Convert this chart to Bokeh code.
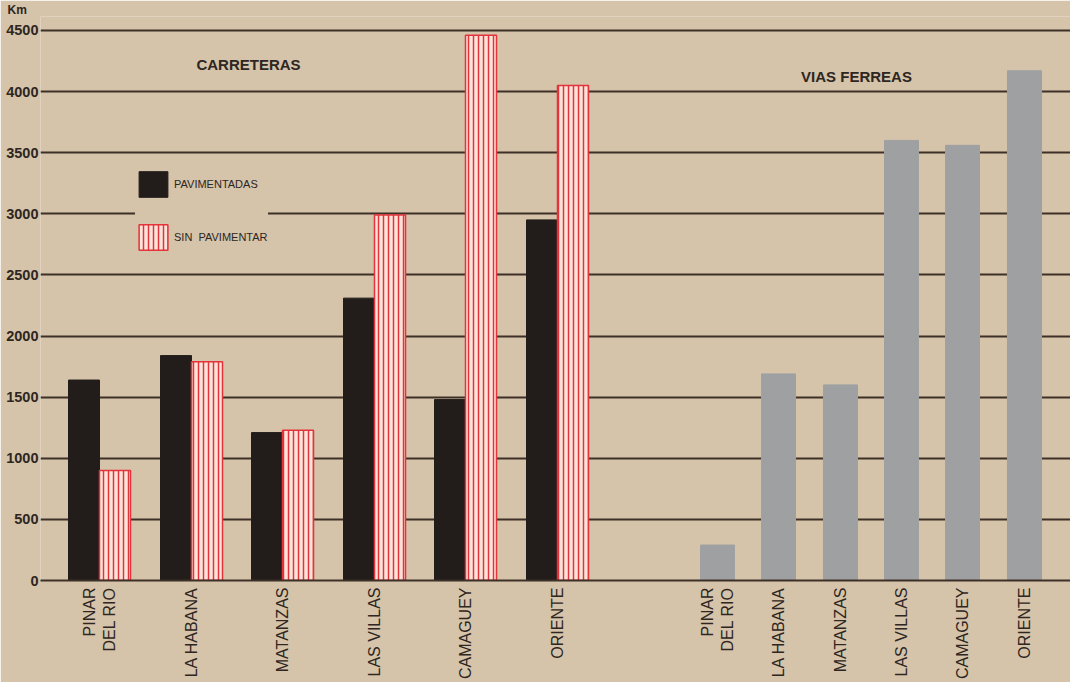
from bokeh.plotting import figure
from bokeh.models import FixedTicker, Legend, LegendItem, Label, ColumnDataSource, Range1d
from bokeh.embed import file_html
from bokeh.resources import INLINE
import math

# ---------------- data ----------------
provincias = ["PINAR\nDEL RIO", "LA HABANA", "MATANZAS", "LAS VILLAS", "CAMAGUEY", "ORIENTE"]
pavimentadas = [1640, 1840, 1210, 2310, 1480, 2950]
sin_pavimentar = [900, 1790, 1230, 2990, 4460, 4050]
vias_ferreas = [290, 1690, 1600, 3600, 3560, 4170]
y_ticks = [0, 500, 1000, 1500, 2000, 2500, 3000, 3500, 4000, 4500]

# ---------------- layout ----------------
W, H = 1070, 682
PAPER = "#d5c3aa"
INK = "#2e2621"
GRID = "#3d3127"
FONT = "Liberation Sans"

c_start, c_pitch, c_bw = 59, 91.6, 31
v_start, v_pitch, v_bw = 677, 61.3, 34
car_x = [round(c_start + i * c_pitch) for i in range(len(provincias))]
via_x = [round(v_start + i * v_pitch) for i in range(len(provincias))]

y_end = 4614
px_per_km = 0.1222

p = figure(width=W, height=H, output_backend="svg", toolbar_location=None,
           x_range=Range1d(0, 1030), y_range=Range1d(0, y_end),
           min_border_left=40, min_border_right=0, min_border_top=0, min_border_bottom=98,
           title="Km")
p.background_fill_color = PAPER
p.border_fill_color = PAPER
p.outline_line_color = None
p.title.align = "left"
p.title.offset = -33
p.title.standoff = 0
p.title.text_font = FONT
p.title.text_font_style = "bold"
p.title.text_font_size = "12px"
p.title.text_color = INK

src_c = ColumnDataSource(dict(
    xb=[x - c_bw / 2 for x in car_x], xr=[x + c_bw / 2 for x in car_x],
    pav=pavimentadas, sin=sin_pavimentar))
src_v = ColumnDataSource(dict(x=via_x, top=vias_ferreas))

r_pav = p.vbar(x="xb", top="pav", width=c_bw, source=src_c,
               fill_color="#221d1b", line_color="#221d1b")
r_sin = p.vbar(x="xr", top="sin", width=c_bw, source=src_c,
               fill_color="#fbe4da", line_color="#e5333b", line_width=1.5,
               hatch_pattern="vertical_line", hatch_color="#e5333b",
               hatch_scale=5, hatch_weight=1.5)
p.vbar(x="x", top="top", width=v_bw, source=src_v,
       fill_color="#9ea0a2", line_color="#9ea0a2")

# axes
p.yaxis.ticker = FixedTicker(ticks=y_ticks)
p.yaxis.axis_line_color = None
p.yaxis.major_tick_line_color = None
p.yaxis.minor_tick_line_color = None
p.yaxis.major_tick_out = 0
p.yaxis.major_tick_in = 0
p.yaxis.major_label_standoff = 2
p.yaxis.major_label_text_font = FONT
p.yaxis.major_label_text_font_style = "bold"
p.yaxis.major_label_text_font_size = "14.5px"
p.yaxis.major_label_text_color = INK

ticks_x = car_x + via_x
p.xaxis.ticker = FixedTicker(ticks=ticks_x)
overrides = {}
for x, name in zip(car_x, provincias):
    overrides[x] = name
for x, name in zip(via_x, provincias):
    overrides[x] = name
p.xaxis.major_label_overrides = overrides
p.xaxis.major_label_orientation = math.pi / 2
p.xaxis.major_tick_out = 0
p.xaxis.major_tick_in = 0
p.xaxis.major_label_standoff = 7
p.xaxis.major_label_text_font = FONT
p.xaxis.major_label_text_font_size = "16px"
p.xaxis.major_label_text_color = INK
p.xaxis.major_tick_line_color = None
p.xaxis.minor_tick_line_color = None
p.xaxis.axis_line_color = GRID
p.xaxis.axis_line_width = 2

p.xgrid.grid_line_color = None
p.ygrid.ticker = FixedTicker(ticks=y_ticks)
p.ygrid.grid_line_color = GRID
p.ygrid.grid_line_width = 1.8

# legend
legend = Legend(items=[LegendItem(label="PAVIMENTADAS", renderers=[r_pav]),
                       LegendItem(label="SIN  PAVIMENTAR", renderers=[r_sin])],
                location=(95, 327), orientation="vertical",
                glyph_width=36, glyph_height=32, spacing=21, padding=8,
                label_standoff=3, margin=0,
                background_fill_color=PAPER, background_fill_alpha=1.0,
                border_line_color=None,
                label_text_font=FONT, label_text_font_size="11px",
                label_text_color=INK)
p.add_layout(legend, "center")

# headings
def ypos(fig_y):
    return (580 - fig_y) / px_per_km

p.add_layout(Label(x=208, y=ypos(64), text="CARRETERAS", text_align="center",
                   text_baseline="middle", text_font=FONT, text_font_style="bold",
                   text_font_size="15px", text_color=INK))
p.add_layout(Label(x=816, y=ypos(76), text="VIAS FERREAS", text_align="center",
                   text_baseline="middle", text_font=FONT, text_font_style="bold",
                   text_font_size="15px", text_color=INK))

open("out.html", "w").write(file_html(p, INLINE))
